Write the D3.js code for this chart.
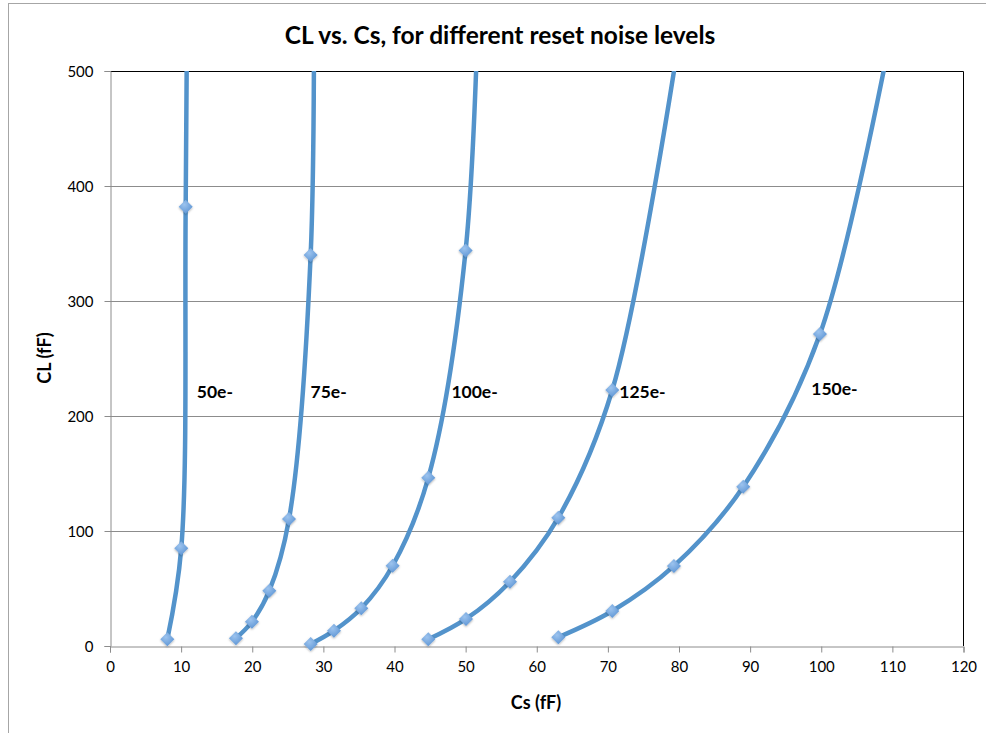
<!DOCTYPE html>
<html>
<head>
<meta charset="utf-8">
<script src="https://cdn.jsdelivr.net/npm/d3@7"></script>
<style>
  body { margin: 0; background: #fff; }
  text { font-family: Lato, "Open Sans", sans-serif; fill: #000; }
</style>
</head>
<body>
<svg id="chart" width="986" height="733"></svg>
<script>
// series (Cs, CL) in fF; last point of each lies above the plot and is clipped
var cs50  = [8.06, 10.02, 10.64, 10.95];
var cl50  = [5.8, 85.0, 382, 700];
var cs75  = [17.71, 19.96, 22.40, 25.17, 28.21, 28.6];
var cl75  = [6.7, 21.1, 48.1, 110.4, 340, 700];
var cs100 = [28.22, 31.49, 35.33, 39.74, 44.75, 50.0, 52.2];
var cl100 = [1.7, 13.3, 32.8, 69.8, 146.3, 344, 660];
var cs125 = [44.75, 50.05, 56.24, 63.03, 70.62, 79.8];
var cl125 = [5.8, 23.5, 55.9, 111.6, 222.6, 520];
var cs150 = [63.03, 70.62, 79.29, 89.03, 99.82, 112.2];
var cl150 = [7.6, 30.4, 69.6, 138.5, 271.3, 610];

var seriesNames = ["50e-", "75e-", "100e-", "125e-", "150e-"];
// where each series label sits (Cs, CL)
var labelCs = [12.2, 28.2, 48.0, 71.6, 98.6];
var labelCl = [216, 216, 216, 216, 218];

var xTicks = [0, 10, 20, 30, 40, 50, 60, 70, 80, 90, 100, 110, 120];
var yTicks = [0, 100, 200, 300, 400, 500];

var allCs = [cs50, cs75, cs100, cs125, cs150];
var allCl = [cl50, cl75, cl100, cl125, cl150];

var svg = d3.select("#chart");

var pLeft = 110, pRight = 963.5, pTop = 71, pBottom = 646;

var x = d3.scaleLinear().domain([0, 120]).range([pLeft, pRight]);
var y = d3.scaleLinear().domain([0, 500]).range([pBottom, pTop]);

// outer chart frame
svg.append("rect")
  .attr("x", 8.5).attr("y", 3.5)
  .attr("width", 1200).attr("height", 1200)
  .attr("fill", "none")
  .attr("stroke", "#a6a6a6");

// title
svg.append("text")
  .attr("x", 500).attr("y", 44)
  .attr("text-anchor", "middle")
  .style("font-weight", "bold")
  .style("font-size", "24.5px")
  .text("CL vs. Cs, for different reset noise levels");

// gridlines
svg.append("g")
  .selectAll("line")
  .data(yTicks.filter(function(d){ return d > 0 && d < 500; }))
  .enter().append("line")
    .attr("x1", pLeft).attr("x2", pRight)
    .attr("y1", function(d){ return Math.round(y(d)) + 0.5; })
    .attr("y2", function(d){ return Math.round(y(d)) + 0.5; })
    .attr("stroke", "#8c8c8c")
    .attr("stroke-width", 1);

// top and right border of plot area
svg.append("path")
  .attr("d", "M" + pLeft + "," + (pTop + 0.5) + "H" + pRight + "V" + pBottom)
  .attr("fill", "none")
  .attr("stroke", "#000")
  .attr("stroke-width", 1);

// axes
var xAxis = d3.axisBottom(x).tickValues(xTicks).tickSize(6).tickPadding(6);
var yAxis = d3.axisLeft(y).tickValues(yTicks).tickSize(6).tickPadding(11);

var gx = svg.append("g")
  .attr("transform", "translate(0," + (pBottom + 0.5) + ")")
  .call(xAxis);
var gy = svg.append("g")
  .attr("transform", "translate(" + (pLeft + 0.5) + ",0)")
  .call(yAxis);

[gx, gy].forEach(function(g){
  g.select(".domain").attr("stroke", "#8c8c8c");
  g.selectAll(".tick line").attr("stroke", "#8c8c8c");
  g.selectAll(".tick text")
    .style("font-family", "Lato, sans-serif")
    .style("font-size", "15px")
    .attr("fill", "#000");
});
gx.selectAll(".tick text").attr("dy", "0.9em");
gy.selectAll(".tick text").attr("dy", "0.35em");

// axis titles
svg.append("text")
  .attr("x", 536).attr("y", 709)
  .attr("text-anchor", "middle")
  .style("font-weight", "bold")
  .style("font-size", "18px")
  .text("Cs (fF)");

svg.append("text")
  .attr("transform", "translate(51,358) rotate(-90)")
  .attr("text-anchor", "middle")
  .style("font-weight", "bold")
  .style("font-size", "18px")
  .text("CL (fF)");

// clip to plot area
svg.append("clipPath").attr("id", "plotclip")
  .append("rect")
    .attr("x", pLeft).attr("y", pTop)
    .attr("width", pRight - pLeft).attr("height", pBottom - pTop + 8);

var defs = svg.append("defs");
var grad = defs.append("radialGradient").attr("id", "mk")
  .attr("cx", "40%").attr("cy", "35%").attr("r", "70%");
grad.append("stop").attr("offset", "0%").attr("stop-color", "#9cc3ee");
grad.append("stop").attr("offset", "100%").attr("stop-color", "#5c94d4");

var filt = defs.append("filter").attr("id", "shadow")
  .attr("x", "-50%").attr("y", "-50%").attr("width", "200%").attr("height", "200%");
filt.append("feDropShadow")
  .attr("dx", 0).attr("dy", 1).attr("stdDeviation", 1.2)
  .attr("flood-color", "#000").attr("flood-opacity", 0.3);

var line = d3.line()
  .x(function(d){ return x(d[0]); })
  .y(function(d){ return y(d[1]); })
  .curve(d3.curveCatmullRom.alpha(0.5));

var plot = svg.append("g").attr("clip-path", "url(#plotclip)");

var diamond = d3.symbol().type(d3.symbolDiamond2).size(125);

allCs.forEach(function(cs, i){
  var pts = cs.map(function(v, j){ return [v, allCl[i][j]]; });

  plot.append("path")
    .datum(pts)
    .attr("d", line)
    .attr("fill", "none")
    .attr("stroke", "#5393cb")
    .attr("stroke-width", 4.5)
    .attr("stroke-linejoin", "round");

  plot.selectAll(".m" + i)
    .data(pts.filter(function(p){ return p[1] <= 500; }))
    .enter().append("path")
      .attr("class", "m" + i)
      .attr("d", diamond)
      .attr("transform", function(p){ return "translate(" + x(p[0]) + "," + y(p[1]) + ")"; })
      .attr("fill", "url(#mk)")
      .attr("filter", "url(#shadow)");
});

// series labels
svg.append("g")
  .selectAll("text")
  .data(seriesNames)
  .enter().append("text")
    .attr("x", function(d, i){ return x(labelCs[i]); })
    .attr("y", function(d, i){ return y(labelCl[i]); })
    .style("font-weight", "bold")
    .style("font-size", "17.5px")
    .text(function(d){ return d; });
</script>
</body>
</html>
